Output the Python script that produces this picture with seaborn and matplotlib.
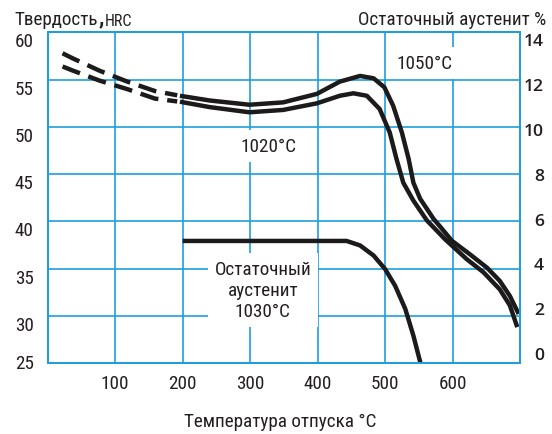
import matplotlib
matplotlib.use("Agg")
import matplotlib.pyplot as plt
import seaborn as sns
import pandas as pd

# hardness after hardening from 1050 C (upper curve), dashed start then solid
temp_1050_dash = [22, 36, 77, 118, 159, 192]
hrc_1050_dash = [57.8, 57.3, 55.95, 54.8, 53.8, 53.35]
temp_1050 = [196, 240, 299, 349, 399, 433, 463, 483, 499, 512, 525, 535, 542,
             552, 572, 581, 599, 626, 651, 670, 685, 698]
hrc_1050 = [53.3, 52.8, 52.35, 52.6, 53.5, 54.8, 55.4, 55.15, 54.2, 52.25, 49.4,
            46.6, 44.1, 42.4, 40.25, 39.5, 37.95, 36.5, 35.1, 33.7, 32.1, 30.2]

# hardness after hardening from 1020 C (lower curve)
temp_1020_dash = [22, 36, 77, 118, 159, 192]
hrc_1020_dash = [56.4, 56.0, 54.9, 54.0, 53.0, 52.7]
temp_1020 = [196, 240, 299, 349, 399, 433, 453, 473, 492, 507, 517, 527, 542,
             562, 589, 621, 646, 670, 685, 696]
hrc_1020 = [52.67, 52.1, 51.55, 51.8, 52.5, 53.3, 53.56, 53.3, 51.9, 49.4, 46.6,
            44.1, 42.2, 40.1, 38.1, 36.0, 34.6, 32.8, 31.1, 28.8]

# retained austenite %, hardening 1030 C (right axis)
temp_ra = [200, 443, 463, 483, 500, 515, 530, 542, 553]
ra_pct = [5.0, 5.0, 4.8, 4.35, 3.75, 3.0, 1.97, 0.78, -0.5]

hrc_ticks = [25, 30, 35, 40, 45, 50, 55, 60]
ra_ticks = [0, 2, 4, 6, 8, 10, 12, 14]
temp_ticks = [100, 200, 300, 400, 500, 600]

sns.set_style("white")
plt.rcParams["font.family"] = ["Roboto Condensed", "PT Sans Narrow",
                               "Fira Sans Condensed", "Liberation Sans",
                               "DejaVu Sans"]

grid_blue = "#1e9fdc"
ink = "#231f20"
curve = "#1c1a1a"
fs = 13.8

fig = plt.figure(figsize=(5.52, 4.35), dpi=100)
ax = fig.add_axes([0.0864, 0.1632, 0.942 - 0.0864, 0.923 - 0.1632])
ax2 = ax.twinx()

lw = 3.2
line_kw = dict(color=curve, linewidth=lw, solid_capstyle="butt",
               solid_joinstyle="round", estimator=None, legend=False)
dash_kw = dict(color=curve, linewidth=lw, dash_capstyle="butt",
               linestyle=(0, (4.2, 2.0)), estimator=None, legend=False)

sns.lineplot(x=temp_1050_dash, y=hrc_1050_dash, ax=ax, **dash_kw)
sns.lineplot(x=temp_1020_dash, y=hrc_1020_dash, ax=ax, **dash_kw)
sns.lineplot(x=temp_1050, y=hrc_1050, ax=ax, **line_kw)
sns.lineplot(x=temp_1020, y=hrc_1020, ax=ax, **line_kw)
sns.lineplot(x=temp_ra, y=ra_pct, ax=ax2, **line_kw)

ax.set_xlim(0, 700)
ax.set_ylim(25, 60)
ax2.set_ylim(-0.44, 14.29)

ax.set_xticks(temp_ticks)
ax.set_yticks(hrc_ticks)
ax2.set_yticks(ra_ticks)
ax.set_xticklabels([str(t) for t in temp_ticks])
ax.set_yticklabels([str(t) for t in hrc_ticks])
ax2.set_yticklabels([str(t) for t in ra_ticks])

ax.tick_params(axis="both", length=0, labelsize=fs, labelcolor=ink)
ax.tick_params(axis="y", pad=10)
ax.tick_params(axis="x", pad=8)
ax2.tick_params(axis="y", length=0, labelsize=12.6, labelcolor=ink, pad=17.3)

# left labels sit just under their grid line (bottom one centred)
for lab in ax.get_yticklabels():
    lab.set_verticalalignment("center" if lab.get_text() == "25" else "top")
for lab in ax2.get_yticklabels():
    lab.set_horizontalalignment("right")
    lab.set_family(["Open Sans", "DejaVu Sans"])
    lab.set_weight("semibold")

ax.set_xlabel("")
ax.set_ylabel("")
ax2.set_ylabel("")
ax.set_axisbelow(True)
ax.grid(True, color=grid_blue, linewidth=1.2)
for a in (ax, ax2):
    for sp in a.spines.values():
        sp.set_color(grid_blue)
        sp.set_linewidth(1.4)

box = dict(facecolor="white", edgecolor="none", pad=5)
ax.text(327.5, 48.0, "1020°C", ha="center", va="center", fontsize=fs,
        color=ink, bbox=box, zorder=4)
ax.text(559, 56.8, "1050°C", ha="center", va="center", fontsize=fs,
        color=ink, bbox=box, zorder=4)
ax.text(319, 32.75, "Остаточный\nаустенит\n1030°C", ha="center", va="center",
        fontsize=fs, color=ink, linespacing=1.2, bbox=box, zorder=4)

t_hard = fig.text(14 / 552, 1 - 25 / 435, "Твердость", ha="left",
                  va="baseline", fontsize=fs, color=ink)
t_comma = ax.annotate(",", xy=(1, 0), xycoords=t_hard, xytext=(0.5, 0),
                      textcoords="offset points", ha="left", va="bottom",
                      fontsize=fs + 2, fontweight="bold", color=ink,
                      annotation_clip=False)
ax.annotate("HRC", xy=(1, 0), xycoords=t_comma, xytext=(1, 0),
            textcoords="offset points", ha="left", va="bottom",
            fontsize=11.5, color=ink, annotation_clip=False)
fig.text(546 / 552, 1 - 25 / 435, "Остаточный аустенит %", ha="right",
         va="baseline", fontsize=fs, color=ink)
fig.text(280 / 552, 1 - 422 / 435, "Температура отпуска °C", ha="center",
         va="center", fontsize=fs, color=ink)

fig.savefig("out.png", dpi=100, facecolor="white")
